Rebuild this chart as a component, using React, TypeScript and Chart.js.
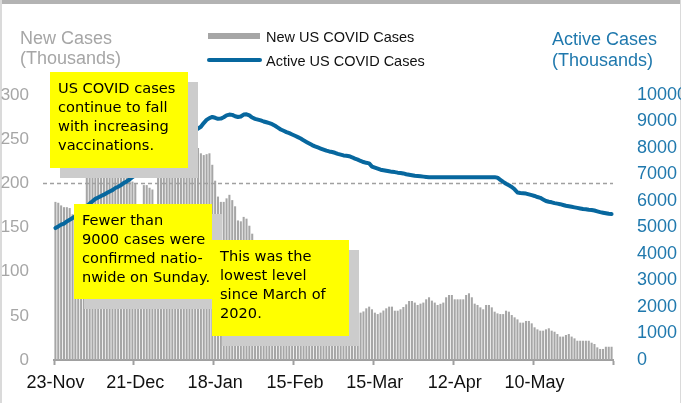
import React, { useEffect, useRef } from 'react';
import { Chart, registerables } from 'chart.js';

Chart.register(...registerables);

// ---- data ----
const xTickLabels = ['23-Nov', '21-Dec', '18-Jan', '15-Feb', '15-Mar', '12-Apr', '10-May'];
const TICK_EVERY = 28;

// New US COVID cases (thousands), daily from 23-Nov
const newCases = [
  179, 178, 175, 173, 173, 172,
  165, 150, 142, 160, 170,
  212, 215, 225, 230, 222, 214, 218, 228, 235, 242, 228, 210, 215, 240, 238,
  235, 202, 200, 120, 135, 198, 198, 195, 193, 170, 206, 206,
  230, 277, 240, 215, 236, 255, 278, 300, 262, 232, 228, 235,
  240,
  234, 232, 233, 234,
  221, 203, 185, 179, 179, 183, 187, 181, 174, 158, 157, 162, 160, 152, 143,
  135, 115, 118, 120, 122, 133, 107, 90, 88, 95, 100, 104, 98, 85, 64, 58, 62, 70, 78, 70, 56,
  55, 72, 72, 76, 78, 62, 48, 58, 60, 66, 66, 68, 58, 42, 50, 56,
  53.6, 55, 58.5, 60.4, 57.4, 53.6, 52, 53.6, 56, 58.5,
  60.4, 60.4, 55.8, 55.8, 57.4, 60, 63, 66.8, 66.8, 65,
  62.3, 63.8, 65, 68.7, 71, 67.2, 65, 62.3, 63.6, 65,
  71, 73.6, 73.6, 68.7, 68.7, 68.7, 68.7, 73.6, 75.5, 71,
  63.8, 62.3, 59.6, 57.4, 62.3, 62.3, 59.6, 54.7, 52.8, 52,
  52, 55.8, 54.7, 50.9, 48.3, 46, 42.3, 42.3, 44.2, 44.2,
  41.5, 37, 34.7, 33.2, 33.2, 34.7, 35.9, 33.2, 32, 29.4,
  26.5, 26.5, 28.3, 29.4, 26.5, 24.5, 21.8, 21.8, 21.8, 21.8,
  21.8, 19.6, 18.1, 14.3, 12.5, 12.5, 15, 15, 15,
];

// Active US COVID cases (thousands)
const activeCases = [
  4980, 5040, 5110, 5150, 5230, 5290, 5360, 5420, 5500, 5600,
  5700, 5800, 5900, 5990, 6080, 6130, 6190, 6240, 6300, 6360,
  6410, 6490, 6540, 6600, 6680, 6740, 6820, 6900, 6980, 7040,
  7100, 7190, 7270, 7350, 7430, 7500, 7580, 7660, 7740, 7820,
  7900, 7980, 8070, 8160, 8250, 8350, 8450, 8530, 8610, 8680,
  8730, 8800, 8940, 9060, 9130, 9170, 9140, 9100, 9110, 9160,
  9230, 9260, 9250, 9200, 9170, 9190, 9260, 9270, 9230, 9150,
  9100, 9070, 9040, 9000, 8970, 8940, 8900, 8840, 8770, 8700,
  8650, 8600, 8560, 8510, 8460, 8410, 8360, 8290, 8230, 8170,
  8110, 8060, 8020, 7980, 7940, 7900, 7870, 7850, 7820, 7780,
  7750, 7720, 7710, 7690, 7650, 7600, 7560, 7510, 7470, 7440,
  7420, 7300, 7260, 7220, 7180, 7160, 7140, 7120, 7100, 7090,
  7070, 7060, 7040, 7010, 6990, 6970, 6950, 6940, 6930, 6920,
  6910, 6900, 6900, 6900, 6900, 6900, 6900, 6900, 6900, 6900,
  6900, 6900, 6900, 6900, 6900, 6900, 6900, 6900, 6900, 6900,
  6900, 6900, 6900, 6900, 6900, 6880, 6800, 6720, 6650, 6590,
  6530, 6440, 6320, 6300, 6290, 6280, 6250, 6220, 6190, 6150,
  6120, 6060, 6000, 5970, 5950, 5920, 5900, 5880, 5850, 5820,
  5800, 5780, 5760, 5740, 5720, 5700, 5690, 5670, 5660, 5640,
  5610, 5580, 5560, 5540, 5520, 5510,
];

const dayIndex = newCases.map((_, i) => i);

const refLineValue = 200;

const seriesNames = ['New US COVID Cases', 'Active US COVID Cases'];
const leftTitle = ['New Cases', '(Thousands)'];
const rightTitle = ['Active Cases', '(Thousands)'];

const notes = [
  ['US COVID cases', 'continue to fall', 'with increasing', 'vaccinations.'],
  ['Fewer than', '9000 cases were', 'confirmed natio-', 'nwide on Sunday.'],
  ['This was the', 'lowest level', 'since March of', '2020.'],
];

// ---- styles ----
const GRAY_BAR = '#a6a6a6';
const BLUE_LINE = '#07679e';
const BLUE_TEXT = '#1f78ad';
const GRAY_TEXT = '#a6a6a6';
const SANS = "'Liberation Sans', Arial, sans-serif";
const NOTE_FONT = "14.6px 'DejaVu Sans', sans-serif";

const noteBoxes = [
  { x: 50, y: 72, w: 138, h: 96 },
  { x: 74, y: 204, w: 138, h: 95 },
  { x: 212, y: 240, w: 137, h: 96 },
];

const decorPlugin = {
  id: 'decor',
  beforeDraw(chart: any) {
    const ctx = chart.ctx;
    ctx.save();
    ctx.fillStyle = '#ffffff';
    ctx.fillRect(0, 0, chart.width, chart.height);
    ctx.fillStyle = '#b3b3b3';
    ctx.fillRect(0, 0, chart.width, 4);
    ctx.fillStyle = '#dadada';
    ctx.fillRect(0, 0, 2, chart.height);
    ctx.fillRect(chart.width - 1, 0, 1, chart.height);
    ctx.restore();
  },
  afterDatasetDraw(chart: any, args: any) {
    if (args.index !== 0) return;
    const ctx = chart.ctx;
    const y = Math.round(chart.scales.y.getPixelForValue(refLineValue)) + 0.5;
    ctx.save();
    ctx.strokeStyle = '#a0a0a0';
    ctx.lineWidth = 1.5;
    ctx.setLineDash([4, 3]);
    ctx.beginPath();
    ctx.moveTo(43, y);
    ctx.lineTo(chart.chartArea.right, y);
    ctx.stroke();
    ctx.restore();
  },
  afterDraw(chart: any) {
    const ctx = chart.ctx;
    ctx.save();
    // annotation boxes
    noteBoxes.forEach((b, i) => {
      ctx.fillStyle = '#cccccc';
      ctx.fillRect(b.x + 10, b.y + 10, b.w, b.h);
      ctx.fillStyle = '#ffff00';
      ctx.fillRect(b.x, b.y, b.w, b.h);
      ctx.fillStyle = '#000000';
      ctx.font = NOTE_FONT;
      ctx.textBaseline = 'middle';
      ctx.textAlign = 'left';
      notes[i].forEach((line, j) => {
        ctx.fillText(line, b.x + 8, b.y + 17 + j * 19);
      });
    });
    // legend
    ctx.fillStyle = GRAY_BAR;
    ctx.fillRect(208, 33, 52, 6);
    ctx.strokeStyle = BLUE_LINE;
    ctx.lineWidth = 4;
    ctx.lineCap = 'round';
    ctx.beginPath();
    ctx.moveTo(209, 60);
    ctx.lineTo(260, 60);
    ctx.stroke();
    ctx.fillStyle = '#111111';
    ctx.font = `14.5px ${SANS}`;
    ctx.textBaseline = 'middle';
    ctx.textAlign = 'left';
    ctx.fillText(seriesNames[0], 266, 38);
    ctx.fillText(seriesNames[1], 266, 62);
    // axis titles
    ctx.font = `18px ${SANS}`;
    ctx.fillStyle = GRAY_TEXT;
    ctx.fillText(leftTitle[0], 20, 39);
    ctx.fillText(leftTitle[1], 20, 59);
    ctx.fillStyle = BLUE_TEXT;
    ctx.fillText(rightTitle[0], 552, 40);
    ctx.fillText(rightTitle[1], 552, 61);
    ctx.restore();
  },
};

export default function App() {
  const ref = useRef<HTMLCanvasElement | null>(null);

  useEffect(() => {
    document.body.style.margin = '0';
    const canvas = ref.current;
    if (!canvas) return;
    const chart = new Chart(canvas, {
      type: 'bar',
      data: {
        labels: dayIndex,
        datasets: [
          {
            type: 'bar',
            label: seriesNames[0],
            data: newCases,
            backgroundColor: GRAY_BAR,
            borderWidth: 0,
            yAxisID: 'y',
            order: 1,
            barPercentage: 1,
            categoryPercentage: 0.72,
          },
          {
            type: 'line',
            label: seriesNames[1],
            data: activeCases,
            borderColor: BLUE_LINE,
            borderWidth: 4,
            pointRadius: 0,
            tension: 0,
            borderJoinStyle: 'round',
            borderCapStyle: 'round',
            yAxisID: 'y1',
            order: 0,
          },
        ],
      } as any,
      options: {
        responsive: false,
        animation: false,
        devicePixelRatio: 1,
        layout: { padding: { top: 95, left: 0, right: 0, bottom: 0 }, autoPadding: false },
        plugins: {
          legend: { display: false },
          tooltip: { enabled: false },
          title: { display: false },
        },
        scales: {
          x: {
            type: 'category',
            offset: true,
            grid: {
              offset: true,
              display: true,
              drawOnChartArea: false,
              drawTicks: true,
              tickLength: 5,
              tickWidth: 2,
              tickColor: (c: any) =>
                c.index === undefined || c.index % TICK_EVERY === 0 ? '#a0a0a0' : 'rgba(0,0,0,0)',
            },
            border: { display: true, color: '#a0a0a0', width: 2 },
            ticks: {
              autoSkip: false,
              maxRotation: 0,
              minRotation: 0,
              padding: 7,
              color: '#111111',
              font: { family: SANS, size: 18 },
              callback: (_v: any, i: number) =>
                i % TICK_EVERY === 0 ? xTickLabels[i / TICK_EVERY] ?? '' : '',
            },
            afterFit: (s: any) => {
              s.height = 43;
            },
          },
          y: {
            type: 'linear',
            position: 'left',
            min: 0,
            max: 300,
            grid: { display: false },
            border: { display: false },
            ticks: {
              stepSize: 50,
              padding: 17,
              color: GRAY_TEXT,
              font: { family: SANS, size: 17 },
              callback: (v: any) => String(v),
            },
            afterFit: (s: any) => {
              s.width = 54;
            },
          },
          y1: {
            type: 'linear',
            position: 'right',
            min: 0,
            max: 10000,
            grid: { display: false },
            border: { display: false },
            ticks: {
              stepSize: 1000,
              padding: 16,
              color: BLUE_TEXT,
              font: { family: SANS, size: 18 },
              callback: (v: any) => String(v),
            },
            afterFit: (s: any) => {
              s.width = 68;
            },
          },
        },
      } as any,
      plugins: [decorPlugin],
    });
    return () => chart.destroy();
  }, []);

  return (
    <div style={{ position: 'relative', width: 681, height: 403, background: '#fff' }}>
      <canvas ref={ref} width={681} height={403} style={{ display: 'block', width: 681, height: 403 }} />
    </div>
  );
}
